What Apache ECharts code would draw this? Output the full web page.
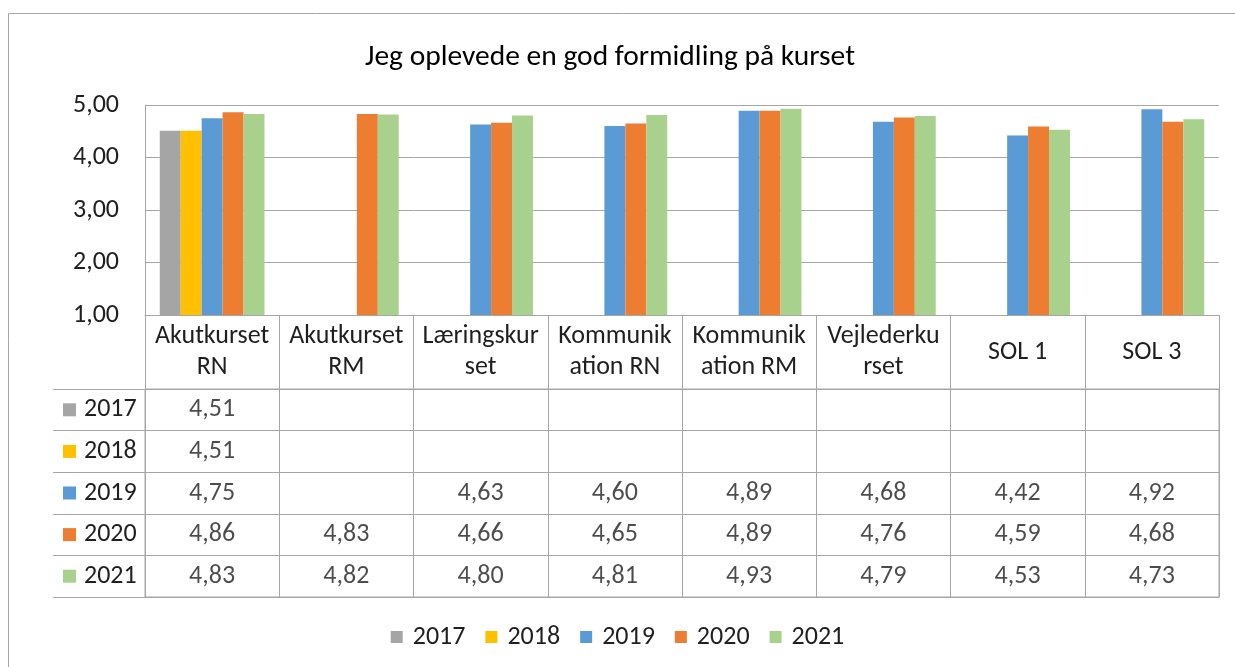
<!DOCTYPE html>
<html>
<head>
<meta charset="utf-8">
<script src="https://cdn.jsdelivr.net/npm/echarts@6/dist/echarts.min.js"></script>
<style>
  html, body { margin: 0; padding: 0; background: #fff; }
  #chart { width: 1235px; height: 667px; }
</style>
</head>
<body>
<div id="chart"></div>
<script>
const courses = ['Akutkurset\nRN', 'Akutkurset\nRM', 'Læringskur\nset', 'Kommunik\nation RN',
  'Kommunik\nation RM', 'Vejlederku\nrset', 'SOL 1', 'SOL 3'];
const years = ['2017', '2018', '2019', '2020', '2021'];
const colors = ['#a5a5a5', '#ffc000', '#5b9bd5', '#ed7d31', '#a9d18e'];

const v2017 = [4.51, null, null, null, null, null, null, null];
const v2018 = [4.51, null, null, null, null, null, null, null];
const v2019 = [4.75, null, 4.63, 4.60, 4.89, 4.68, 4.42, 4.92];
const v2020 = [4.86, 4.83, 4.66, 4.65, 4.89, 4.76, 4.59, 4.68];
const v2021 = [4.83, 4.82, 4.80, 4.81, 4.93, 4.79, 4.53, 4.73];

const values = [v2017, v2018, v2019, v2020, v2021];
const font = 'Carlito, Lato, sans-serif';
const textColor = '#1f1f1f';
const lineColor = '#a6a6a6';
const fs = 26;
const fmt = v => v.toFixed(2).replace('.', ',');

// cells for the data table
const cells = [];
values.forEach((row, yi) => {
  row.forEach((v, ci) => {
    if (v != null) cells.push([ci, yi, v]);
  });
});

// swatches for the year column
const rich = { g: { width: 8 }, t: { fontSize: fs, fontFamily: font, color: textColor } };
years.forEach((y, i) => {
  rich['s' + i] = { width: 13, height: 13, backgroundColor: colors[i] };
});

const chart = echarts.init(document.getElementById('chart'));

const option = {
  animation: false,
  color: colors,
  title: {
    text: 'Jeg oplevede en god formidling på kurset',
    left: 360,
    top: 38,
    textStyle: { fontFamily: font, fontSize: 29.5, fontWeight: 'normal', color: '#000' }
  },
  legend: {
    data: years,
    top: 619,
    left: 'center',
    icon: 'rect',
    itemWidth: 12,
    itemHeight: 12,
    itemGap: 20,
    textStyle: { fontFamily: font, fontSize: fs, color: textColor, padding: [0, 0, 0, 5] }
  },
  graphic: [{
    type: 'rect',
    shape: { x: 8.5, y: 13.5, width: 1300, height: 700 },
    style: { fill: 'none', stroke: lineColor, lineWidth: 1 },
    silent: true
  }],
  grid: [
    { left: 145, right: 16, top: 105, height: 210 },
    { left: 145, right: 16, top: 389, height: 208, show: true, borderColor: lineColor, borderWidth: 1 }
  ],
  xAxis: [
    {
      type: 'category',
      gridIndex: 0,
      data: courses,
      axisLine: { lineStyle: { color: lineColor } },
      axisTick: { show: true, interval: 0, length: 74, lineStyle: { color: lineColor } },
      axisLabel: {
        interval: 0,
        margin: 37,
        verticalAlign: 'middle',
        fontFamily: font,
        fontSize: fs,
        lineHeight: 31,
        color: textColor
      }
    },
    {
      type: 'category',
      gridIndex: 1,
      data: courses,
      axisLine: { lineStyle: { color: lineColor } },
      axisTick: { show: false },
      axisLabel: { show: false },
      splitLine: { show: true, interval: 0, lineStyle: { color: lineColor } }
    }
  ],
  yAxis: [
    {
      type: 'value',
      gridIndex: 0,
      min: 1,
      max: 5,
      interval: 1,
      axisLine: { show: true, lineStyle: { color: lineColor } },
      axisTick: { show: false },
      splitLine: { lineStyle: { color: lineColor } },
      axisLabel: {
        margin: 26,
        fontFamily: font,
        fontSize: fs,
        color: textColor,
        formatter: fmt
      }
    },
    {
      type: 'category',
      gridIndex: 1,
      data: years,
      inverse: true,
      axisLine: { show: true, lineStyle: { color: lineColor } },
      axisTick: { show: true, interval: 0, length: 92, lineStyle: { color: lineColor } },
      splitLine: { show: true, interval: 0, lineStyle: { color: lineColor } },
      axisLabel: {
        interval: 0,
        align: 'left',
        margin: 82,
        rich: rich,
        formatter: (v, i) => '{s' + i + '|}{g|}{t|' + v + '}'
      }
    },
    {
      type: 'category',
      gridIndex: 1,
      data: years,
      inverse: true,
      offset: 92,
      axisLine: { show: true, lineStyle: { color: lineColor } },
      axisTick: { show: false },
      axisLabel: { show: false }
    }
  ],
  series: years.map((y, i) => ({
    name: y,
    type: 'bar',
    xAxisIndex: 0,
    yAxisIndex: 0,
    data: values[i],
    barGap: '0%',
    barCategoryGap: '22%'
  })).concat([{
    type: 'scatter',
    xAxisIndex: 1,
    yAxisIndex: 1,
    data: cells,
    symbolSize: 1,
    itemStyle: { color: 'rgba(0,0,0,0)' },
    label: {
      show: true,
      position: 'inside',
      fontFamily: font,
      fontSize: fs,
      color: textColor,
      formatter: p => fmt(p.value[2])
    }
  }])
};

chart.setOption(option);
</script>
</body>
</html>
